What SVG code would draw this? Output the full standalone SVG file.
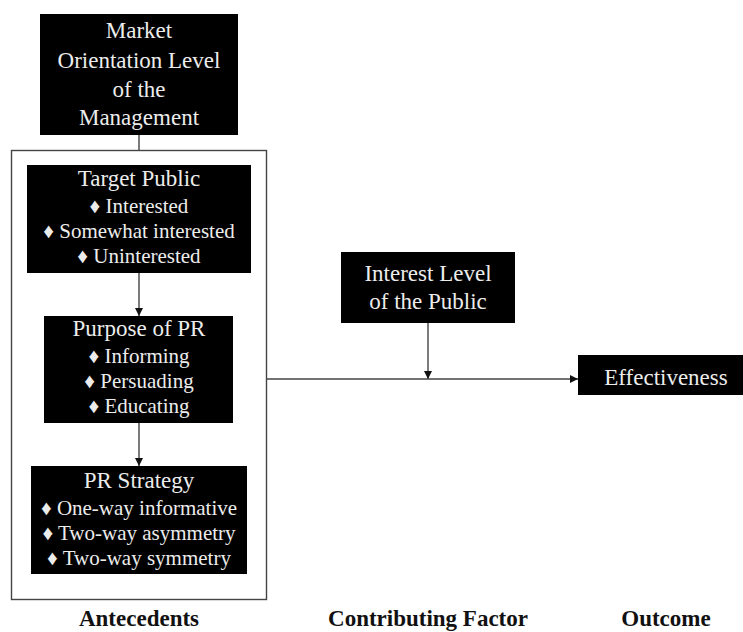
<svg xmlns="http://www.w3.org/2000/svg" width="743" height="632" viewBox="0 0 743 632">
<defs>
<marker id="ah" markerWidth="8" markerHeight="8" refX="8" refY="4" orient="auto" markerUnits="userSpaceOnUse">
<path d="M0,0 L8,4 L0,8 Z" fill="#111"/>
</marker>
<style>
.box{fill:#000;}
.t{font-family:"Liberation Serif","Times New Roman",serif;fill:#ececec;text-anchor:middle;}
.h{font-size:23px;}
.i{font-size:21px;}
.lbl{font-family:"Liberation Serif","Times New Roman",serif;font-weight:bold;font-size:23px;fill:#111;text-anchor:middle;}
.ln{stroke:#444;stroke-width:1.4;fill:none;}
</style>
</defs>
<rect width="743" height="632" fill="#fff"/>
<g id="connectors">
<rect class="ln" x="11.5" y="150.5" width="255" height="449"/>
<line class="ln" x1="139" y1="135" x2="139" y2="150"/>
<line class="ln" x1="139" y1="273" x2="139" y2="316" marker-end="url(#ah)"/>
<line class="ln" x1="139" y1="423" x2="139" y2="466" marker-end="url(#ah)"/>
<line class="ln" x1="428" y1="323" x2="428" y2="379" marker-end="url(#ah)"/>
<line class="ln" x1="266" y1="379" x2="578" y2="379" marker-end="url(#ah)"/>
</g>
<g id="market">
<rect class="box" x="40" y="14" width="198" height="121"/>
<text class="t h" x="139" y="38">Market</text>
<text class="t h" x="139" y="68">Orientation Level</text>
<text class="t h" x="139" y="97">of the</text>
<text class="t h" x="139" y="125">Management</text>
</g>
<g id="target">
<rect class="box" x="27" y="165" width="224" height="108"/>
<text class="t h" x="139" y="186">Target Public</text>
<text class="t i" x="139" y="213">♦ Interested</text>
<text class="t i" x="139" y="238">♦ Somewhat interested</text>
<text class="t i" x="139" y="263">♦ Uninterested</text>
</g>
<g id="purpose">
<rect class="box" x="44" y="316" width="189" height="107"/>
<text class="t h" x="139" y="336">Purpose of PR</text>
<text class="t i" x="139" y="363">♦ Informing</text>
<text class="t i" x="139" y="388">♦ Persuading</text>
<text class="t i" x="139" y="413">♦ Educating</text>
</g>
<g id="strategy">
<rect class="box" x="31" y="466" width="216" height="108"/>
<text class="t h" x="139" y="488">PR Strategy</text>
<text class="t i" x="139" y="515">♦ One-way informative</text>
<text class="t i" x="139" y="540">♦ Two-way asymmetry</text>
<text class="t i" x="139" y="565">♦ Two-way symmetry</text>
</g>
<g id="interest">
<rect class="box" x="341" y="252" width="174" height="71"/>
<text class="t h" x="428" y="281">Interest Level</text>
<text class="t h" x="428" y="309">of the Public</text>
</g>
<g id="effectiveness">
<rect class="box" x="578" y="355" width="165" height="40"/>
<text class="t h" x="666" y="385">Effectiveness</text>
</g>
<g id="labels">
<text class="lbl" x="139" y="626">Antecedents</text>
<text class="lbl" x="428" y="626">Contributing Factor</text>
<text class="lbl" x="666" y="626">Outcome</text>
</g>
</svg>
